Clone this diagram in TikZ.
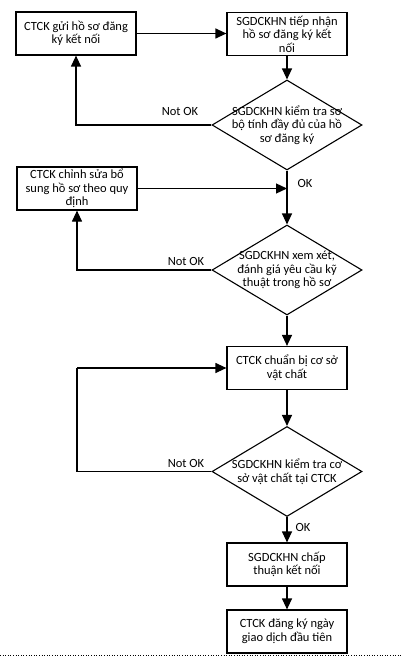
\documentclass[tikz,border=0pt]{standalone}
\usepackage{fontspec}
\setmainfont{Carlito}
\usetikzlibrary{arrows.meta,positioning,shapes.geometric}

\begin{document}
\begin{tikzpicture}[x=1pt,y=-1pt,
    font=\fontsize{12.5}{13.6}\selectfont,
    box/.style={draw,line width=1.2pt,minimum width=120pt,minimum height=43pt,align=center,inner sep=2pt},
    check/.style={draw,diamond,line width=1.1pt,minimum width=150pt,minimum height=90pt,aspect=1.67,inner xsep=-10pt,inner ysep=-10pt,align=center},
    flow/.style={line width=1.2pt,-{Triangle[length=11pt,width=10pt]}}]
    \useasboundingbox (0,0) rectangle (402,660);

    \node[box] (gui) at (76,33.5) {CTCK gửi hồ sơ đăng\\ký kết nối};
    \node[box] (nhan) at (287,34) {SGDCKHN tiếp nhận\\hồ sơ đăng ký kết\\nối};
    \node[check] (kt1) at (287,125) {SGDCKHN kiểm tra sơ\\bộ tính đầy đủ của hồ\\sơ đăng ký};
    \node[box] (sua) at (77,188.5) {CTCK chỉnh sửa bổ\\sung hồ sơ theo quy\\định};
    \node[check] (kt2) at (287,270) {SGDCKHN xem xét,\\đánh giá yêu cầu kỹ\\thuật trong hồ sơ};
    \node[box] (cbi) at (287,368) {CTCK chuẩn bị cơ sở\\vật chất};
    \node[check] (kt3) at (287,471.5) {SGDCKHN kiểm tra cơ\\sở vật chất tại CTCK};
    \node[box] (duyet) at (287,564.5) {SGDCKHN chấp\\thuận kết nối};
    \node[box] (ngay) at (287,631.5) {CTCK đăng ký ngày\\giao dịch đầu tiên};

    \node (nok1) at (180,111) {Not OK};
    \node (ok1) at (305,183) {OK};
    \node (nok2) at (186,261) {Not OK};
    \node (nok3) at (186,463) {Not OK};
    \node (ok3) at (303,527) {OK};

    \coordinate (vong) at (77,368);

    \draw[flow] (gui) -- (nhan.west |- gui.east);
    \draw[flow] (nhan) -- (kt1);
    \draw[flow] (kt1.west) -| (gui.south);
    \draw[flow] (kt1) -- (kt2);
    \draw[flow] (sua.east) -- (sua.east -| kt1.south);
    \draw[flow] (kt2.west) -| (sua.south);
    \draw[flow] (kt2) -- (cbi);
    \draw[flow] (cbi) -- (kt3);
    \draw[line width=1.2pt] (kt3.west) -| (vong);
    \draw[flow] (vong) -- (cbi.west);
    \draw[flow] (kt3) -- (duyet);
    \draw[flow] (duyet) -- (ngay);

    \draw[dotted,line width=0.6pt] (0,655) -- (402,655);
\end{tikzpicture}
\end{document}
